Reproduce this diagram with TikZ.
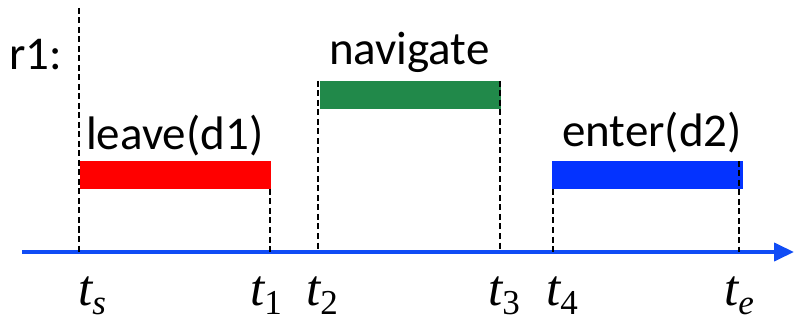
\documentclass[tikz,border=0pt]{standalone}
\usepackage{fontspec}
\setmainfont{Carlito}
\newfontfamily\tms{Liberation Serif}
\usetikzlibrary{arrows.meta}
\definecolor{barred}{RGB}{255,0,0}
\definecolor{bargreen}{RGB}{33,137,74}
\definecolor{barblue}{RGB}{4,51,255}
\definecolor{axisblue}{RGB}{16,76,245}
\newcommand{\tlab}[1]{\smash{{\tms\itshape t}\raisebox{-9pt}{\tms\fontsize{35}{35}\selectfont #1}}}
\begin{document}
\begin{tikzpicture}[x=1pt,y=-1pt,
  lbl/.style={font=\fontsize{47}{47}\selectfont, inner sep=0pt, anchor=base west},
  tl/.style={font=\fontsize{51}{51}\selectfont, inner sep=0pt, anchor=base west},
  guide/.style={black, line width=2.8pt, dash pattern=on 6pt off 3.5pt},
  bar/.style={draw=none, inner sep=0pt, minimum height=28pt, anchor=north west}]
\useasboundingbox (0,0) rectangle (794,320);
% axis
\coordinate (a0) at (22,252);
\coordinate (a1) at (794,252);
\draw[axisblue, line width=4pt, -{Triangle[length=20pt,width=18pt]}] (a0) -- (a1);
% start guide (behind bar)
\coordinate (gsTop) at (79,8);
\coordinate (gsBot) at (79,252);
\draw[guide] (gsTop) -- (gsBot);
% bars
\node[bar, fill=barred, minimum width=191pt] (leave) at (80,161) {};
\node[bar, fill=bargreen, minimum width=181pt] (nav) at (320,81) {};
\node[bar, fill=barblue, minimum width=191pt] (enter) at (552,161) {};
% guides
\coordinate (g1t) at (270,189); \coordinate (g1b) at (270,252);
\coordinate (g2t) at (318,81);  \coordinate (g2b) at (318,252);
\coordinate (g3t) at (500,81);  \coordinate (g3b) at (500,252);
\coordinate (g4t) at (553,189); \coordinate (g4b) at (553,252);
\coordinate (get) at (739,161); \coordinate (geb) at (739,252);
\draw[guide] (g1t) -- (g1b);
\draw[guide] (g2t) -- (g2b);
\draw[guide] (g3t) -- (g3b);
\draw[guide] (g4t) -- (g4b);
\draw[guide] (get) -- (geb);
% text labels
\node[lbl] (r1) at (9,70) {r1:};
\node[lbl] (lleave) at (86,150) {leave(d1)};
\node[lbl] (lnav) at (329,65) {navigate};
\node[lbl] (lenter) at (562,147) {enter(d2)};
% time labels
\node[tl] (ts) at (78,305) {\tlab{\itshape s}};
\node[tl] (t1) at (250,305) {\tlab{1}};
\node[tl] (t2) at (306,305) {\tlab{2}};
\node[tl] (t3) at (488,305) {\tlab{3}};
\node[tl] (t4) at (546,305) {\tlab{4}};
\node[tl] (te) at (724,305) {\tlab{\itshape e}};
\end{tikzpicture}
\end{document}
